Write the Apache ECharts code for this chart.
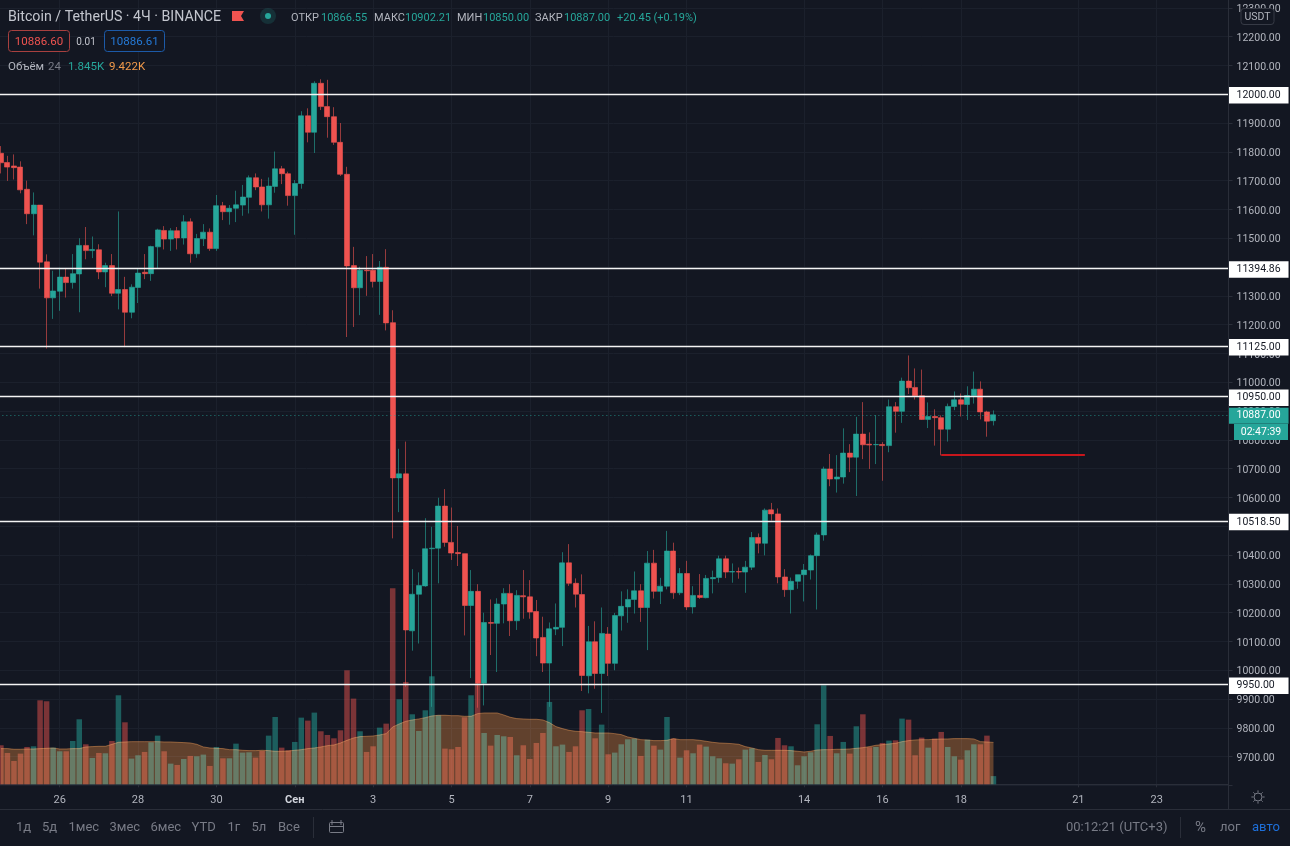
<!DOCTYPE html>
<html>
<head>
<meta charset="utf-8">
<title>Bitcoin / TetherUS 4H</title>
<script src="https://cdn.jsdelivr.net/npm/echarts@6/dist/echarts.min.js"></script>
<style>
  html, body { margin: 0; padding: 0; background: #131722; }
  #chart { width: 1290px; height: 846px; }
</style>
</head>
<body>
<div id="chart"></div>
<script>
// 4-hour candles, oldest first (ten per row)
const opens = [
  11795,11763,11751,11747,11670,11585,11615,11418,11293,11316,
  11365,11346,11376,11475,11457,11460,11383,11405,11309,11322,
  11243,11329,11382,11377,11470,11527,11497,11526,11501,11557,
  11446,11498,11521,11464,11613,11592,11604,11615,11642,11710,
  11678,11616,11680,11741,11724,11648,11690,11925,11868,12038,
  11957,11922,11833,11722,11405,11328,11389,11389,11350,11399,
  11207,10668,10682,10137,10264,10293,10422,10424,10570,10444,
  10409,10405,10225,10274,9955,10166,10163,10230,10267,10172,
  10259,10255,10204,10114,10025,10143,10149,10373,10302,10263,
  9981,10099,9989,10126,10024,10189,10220,10246,10276,10218,
  10372,10274,10292,10414,10269,10336,10220,10260,10252,10318,
  10322,10387,10341,10343,10341,10358,10461,10441,10557,10543,
  10324,10280,10309,10332,10348,10398,10470,10699,10664,10671,
  10754,10740,10820,10785,10783,10784,10780,10915,10899,11004,
  10982,10953,10871,10881,10877,10837,10916,10939,10923,10953,
  10976,10897,10866.55
];
const closes = [
  11762,11747,11745,11668,11585,11615,11417,11293,11317,11365,
  11346,11377,11475,11457,11461,11383,11405,11309,11322,11243,
  11330,11379,11377,11471,11529,11497,11526,11501,11557,11446,
  11499,11521,11464,11613,11592,11604,11616,11643,11710,11678,
  11616,11681,11741,11724,11648,11690,11925,11868,12038,11957,
  11922,11833,11722,11404,11328,11389,11387,11350,11399,11206,
  10668,10682,10140,10264,10294,10422,10424,10570,10444,10407,
  10405,10225,10274,9955,10166,10163,10230,10267,10172,10260,
  10255,10202,10112,10025,10144,10149,10373,10302,10264,9982,
  10099,9989,10128,10024,10190,10222,10246,10276,10218,10372,
  10274,10292,10414,10269,10336,10220,10260,10253,10319,10322,
  10387,10341,10343,10341,10358,10461,10441,10556,10543,10324,
  10280,10309,10332,10348,10398,10470,10699,10664,10671,10754,
  10740,10820,10783,10782,10784,10780,10915,10899,11004,10981,
  10953,10871,10881,10877,10837,10916,10939,10924,10954,10976,
  10897,10865,10887
];
const highs = [
  11820,11786,11791,11767,11700,11659,11615,11444,11387,11398,
  11394,11445,11500,11539,11506,11479,11415,11445,11593,11366,
  11340,11396,11445,11474,11533,11542,11535,11539,11580,11569,
  11515,11549,11534,11650,11626,11615,11665,11685,11718,11725,
  11706,11711,11801,11751,11731,11702,11941,11951,12045,12052,
  12050,11955,11900,11748,11470,11401,11438,11445,11421,11462,
  11250,10769,10794,10351,10340,10528,10498,10599,10629,10565,
  10501,10405,10348,10299,10200,10246,10250,10285,10299,10278,
  10348,10313,10244,10186,10166,10232,10410,10438,10319,10333,
  10154,10170,10218,10150,10199,10274,10281,10343,10299,10414,
  10418,10321,10484,10443,10355,10380,10292,10334,10331,10346,
  10398,10398,10371,10357,10380,10480,10475,10562,10581,10562,
  10351,10322,10332,10369,10402,10478,10707,10751,10747,10840,
  10785,10880,10931,10826,10886,10792,10940,10931,11016,11093,
  11048,11044,10930,10906,10885,10926,10968,10961,10986,11037,
  11003,10901,10902.21
];
const lows = [
  11725,11699,11704,11656,11549,11510,11325,11117,11220,11248,
  11294,11325,11243,11427,11431,11358,11330,11299,11253,11122,
  11222,11275,11358,11352,11395,11461,11456,11461,11478,11415,
  11432,11473,11456,11456,11563,11547,11556,11578,11586,11667,
  11593,11568,11658,11688,11613,11512,11672,11833,11796,11945,
  11849,11824,11716,11157,11192,11233,11300,11329,11234,11180,
  10458,10549,9943,10068,10093,10290,9873,10302,10429,10383,
  10362,10121,9973,9870,9878,10053,9994,10163,10119,10140,
  10179,10179,10049,9994,9873,10122,10084,10293,10218,9928,
  9920,9936,9852,9980,10000,10138,10165,10197,10168,10070,
  10249,10230,10281,10248,10261,10209,10197,10248,10250,10267,
  10304,10320,10304,10318,10269,10348,10406,10399,10520,10302,
  10255,10197,10283,10239,10315,10211,10450,10639,10617,10648,
  10688,10605,10733,10699,10716,10658,10757,10825,10859,10959,
  10940,10869,10841,10780,10746,10794,10903,10881,10869,10926,
  10871,10811,10850
];
// Traded volume per candle, thousands of BTC
const volumes = [
  8.78,7.05,5.25,6.90,8.40,8.55,18.90,18.68,8.25,7.43,
  7.43,9.75,14.63,9.00,5.93,7.05,6.98,9.75,20.03,13.95,
  5.78,6.53,7.28,9.45,10.95,7.43,4.65,4.35,5.70,6.38,
  6.30,6.68,4.13,8.40,5.85,5.85,9.15,7.13,7.20,6.00,
  7.50,10.95,15.15,8.25,7.65,9.53,15.00,14.33,16.13,11.93,
  11.10,10.35,12.15,25.65,19.28,11.93,7.28,8.55,12.75,13.65,
  44.10,19.13,23.03,15.75,12.00,16.65,24.30,15.53,8.03,7.88,
  8.40,15.08,20.03,22.65,11.55,8.70,11.10,10.80,10.65,6.53,
  8.78,5.70,9.30,11.55,18.53,8.55,8.93,7.28,8.55,16.65,
  16.95,10.35,13.43,6.75,7.13,9.00,10.13,10.28,6.38,10.05,
  8.70,7.80,15.15,10.28,6.00,7.65,6.98,8.93,8.48,6.30,
  5.85,4.73,4.65,5.63,7.80,8.10,5.03,6.60,5.63,10.43,
  8.78,8.55,4.28,6.30,7.20,13.50,22.28,10.88,6.98,9.53,
  6.90,13.05,15.75,8.33,8.40,9.30,9.83,9.90,14.78,14.55,
  6.53,10.50,8.25,10.28,11.78,8.40,6.30,5.55,7.65,9.00,
  9.00,10.95,1.845
];
// 24-period volume average
const volumeAverage = [
  8.03,8.03,7.88,7.88,7.95,7.95,8.03,8.10,8.18,7.95,
  7.95,8.03,8.03,8.40,8.48,8.55,8.55,9.00,9.45,9.53,
  9.60,9.60,9.60,9.60,9.60,9.53,9.53,9.45,9.38,9.30,
  9.00,8.40,8.18,8.10,8.03,7.80,7.80,7.65,7.58,7.58,
  7.65,7.58,7.43,7.43,7.50,7.65,7.80,8.03,8.18,8.40,
  8.70,8.85,9.30,9.90,10.43,10.73,10.80,10.88,11.10,11.40,
  12.90,13.58,14.18,14.48,14.70,15.00,15.38,15.53,15.53,15.45,
  15.45,15.30,15.30,15.90,16.05,16.05,16.05,15.60,15.08,14.78,
  14.70,14.63,14.63,14.48,13.88,12.98,12.53,12.15,11.93,11.85,
  11.70,11.55,11.55,11.55,11.40,11.18,10.65,10.35,10.05,9.98,
  9.83,9.83,9.90,10.28,10.05,10.05,10.05,9.90,9.68,9.45,
  9.30,9.23,9.15,9.00,8.48,8.18,7.80,7.65,7.65,7.65,
  7.65,7.58,7.43,7.28,7.43,7.73,7.80,7.80,7.88,7.88,
  7.95,8.10,8.25,8.48,8.78,8.93,9.08,9.23,9.60,9.83,
  9.98,10.05,10.05,10.13,10.20,10.20,10.28,10.28,10.28,10.20,
  9.60,9.53,9.422
];

// Horizontal levels drawn by hand on the chart
const levels = [12000, 11394.86, 11125, 10950, 10518.5, 9950];
const lastPrice = 10887;
const stopLine = { from: '17.09 12:00', to: '21.09 04:00', price: 10747 };

// Date axis labels, keyed by the candle they sit under
const dateTicks = {
  '26.08 00:00': '26', '28.08 00:00': '28', '30.08 00:00': '30', '01.09 00:00': 'Сен',
  '03.09 00:00': '3', '05.09 00:00': '5', '07.09 00:00': '7', '09.09 00:00': '9',
  '11.09 00:00': '11', '14.09 00:00': '14', '16.09 00:00': '16', '18.09 00:00': '18',
  '21.09 00:00': '21', '23.09 00:00': '23'
};

// One 4-hour slot per axis step, with one blank slot before the first candle
const categories = [];
const slotCount = 190;
for (let i = 0; i < slotCount; i++) {
  const d = new Date(Date.UTC(2020, 7, 24, 8 + i * 4));
  const p = n => String(n).padStart(2, '0');
  categories.push(p(d.getUTCDate()) + '.' + p(d.getUTCMonth() + 1) + ' ' + p(d.getUTCHours()) + ':00');
}

const UP = '#26a69a', DOWN = '#ef5350', BG = '#131722';
const GRID = '#1b202c', AXIS = '#2a2e39', TEXT = '#b2b5be', MUTED = '#787b86';
const FONT = 'Roboto, "Liberation Sans", sans-serif';

const blank = ['-', '-', '-', '-'];
const candleData = [blank].concat(opens.map((o, i) => [o, closes[i], lows[i], highs[i]]));
const volumeData = [null].concat(volumes.map((v, i) => ({
  value: v,
  itemStyle: { color: closes[i] >= opens[i] ? 'rgba(38,166,154,0.5)' : 'rgba(239,83,80,0.48)' }
})));
const averageData = [null].concat(volumeAverage);

const plotLeft = -5.63, plotWidth = 1234.17;

// Value tags that sit on the price scale at the end of a horizontal line
const tag = (text, bg, fg, boxHeight) => ({
  show: true, position: 'end', distance: 0, offset: [0, 1], formatter: text,
  width: 52, height: boxHeight - 2, lineHeight: boxHeight - 2, align: 'left', padding: [2, 0, 0, 8],
  backgroundColor: bg, color: fg, fontFamily: FONT, fontSize: 10.5
});
const levelLines = levels.map(v => ({
  yAxis: v,
  lineStyle: { color: '#f4f4f4', width: 1.3, type: 'solid' },
  label: tag(v.toFixed(2), '#ffffff', BG, 16.5)
}));
const priceLine = {
  yAxis: lastPrice,
  lineStyle: { color: 'rgba(38,166,154,0.75)', width: 1, type: [1, 3] },
  label: tag(lastPrice.toFixed(2), UP, '#ffffff', 16)
};
const stopSegment = [
  { coord: [stopLine.from, stopLine.price], lineStyle: { color: '#c8161c', width: 2, type: 'solid' }, label: { show: false } },
  { coord: [stopLine.to, stopLine.price] }
];

// Header, toolbar and badges around the plot
const t = (text, x, y, fill, size, extra) => ({
  type: 'text', z: 100, silent: true,
  style: Object.assign({ x, y: y + 1, text, fill, font: (size || 11) + 'px ' + FONT, verticalAlign: 'middle', align: 'left' }, extra || {})
});
const rect = (x, y, width, height, style, r) => ({
  type: 'rect', z: 99, silent: true, shape: { x, y, width, height, r: r || 0 }, style
});
const seg = (x1, y1, x2, y2, stroke, lineWidth) => ({
  type: 'line', z: 99, silent: true, shape: { x1, y1, x2, y2 }, style: { stroke, lineWidth: lineWidth || 1 }
});

const rangeButtons = [['1д', 16], ['5д', 42], ['1мес', 68.5], ['3мес', 109.5], ['6мес', 150.5], ['YTD', 191.5], ['1г', 227.5], ['5л', 251.5], ['Все', 278]];
const gearRays = [0, 45, 90, 135, 180, 225, 270, 315].map(a => {
  const c = Math.cos(a * Math.PI / 180), s = Math.sin(a * Math.PI / 180);
  return seg(1258 + 4.6 * c, 797 + 4.6 * s, 1258 + 6.6 * c, 797 + 6.6 * s, MUTED, 1);
});

const overlays = [
  t('Bitcoin / TetherUS · 4Ч · BINANCE', 8, 16, '#c3c6ce', 14.2),
  { type: 'polygon', z: 99, silent: true, shape: { points: [[232, 11], [244, 11], [241, 16], [244, 21], [232, 21]] }, style: { fill: DOWN } },
  { type: 'circle', z: 99, silent: true, shape: { cx: 268, cy: 16, r: 8 }, style: { fill: 'rgba(38,166,154,0.18)' } },
  { type: 'circle', z: 99, silent: true, shape: { cx: 268, cy: 16, r: 3 }, style: { fill: UP } },
  t('ОТКР', 291, 17, TEXT), t('10866.55', 321, 17, UP),
  t('МАКС', 374, 17, TEXT), t('10902.21', 405, 17, UP),
  t('МИН', 457, 17, TEXT), t('10850.00', 483, 17, UP),
  t('ЗАКР', 535, 17, TEXT), t('10887.00', 564, 17, UP),
  t('+20.45 (+0.19%)', 617, 17, UP),
  rect(8.5, 30.5, 61, 21, { fill: BG, stroke: '#a8403f', lineWidth: 1 }, 3),
  t('10886.60', 39, 41, DOWN, 11.5, { align: 'center' }),
  t('0.01', 86, 41, '#c3c6ce', 10, { align: 'center' }),
  rect(104.5, 30.5, 60, 21, { fill: BG, stroke: '#1c5aa8', lineWidth: 1 }, 3),
  t('10886.61', 134.5, 41, '#2479d6', 11.5, { align: 'center' }),
  t('Объём', 8, 66, TEXT, 11.5), t('24', 48, 66, MUTED, 11.5),
  t('1.845K', 68, 66, UP, 11.5), t('9.422K', 109, 66, '#f29a4a', 11.5),

  rect(1241, 8.5, 33, 16, { fill: BG, stroke: '#363a45', lineWidth: 1 }, 3),
  t('USDT', 1257.5, 16, TEXT, 10.5, { align: 'center' }),
  rect(1234, 424, 54, 16, { fill: UP }),
  t('02:47:39', 1261, 431.5, '#ffffff', 10.5, { align: 'center' }),

  seg(0, 809.5, 1290, 809.5, AXIS),
  seg(1228.5, 0, 1228.5, 809.5, AXIS),
  { type: 'circle', z: 99, silent: true, shape: { cx: 1258, cy: 797, r: 4 }, style: { fill: 'none', stroke: MUTED, lineWidth: 1 } }
].concat(gearRays).concat(rangeButtons.map(b => t(b[0], b[1], 827, MUTED, 13))).concat([
  seg(313.5, 817, 313.5, 838, AXIS),
  rect(329.5, 822.5, 14, 10, { fill: 'none', stroke: MUTED, lineWidth: 1 }, 1),
  seg(332, 820, 332, 825, MUTED), seg(341, 820, 341, 825, MUTED), seg(329, 826.5, 344, 826.5, MUTED),
  t('00:12:21 (UTC+3)', 1066, 827, MUTED, 13),
  seg(1180.5, 817, 1180.5, 838, AXIS),
  t('%', 1195, 827, MUTED, 15),
  t('лог', 1220, 827, MUTED, 13),
  t('авто', 1252, 827, '#1e6fd9', 13)
]);

const chart = echarts.init(document.getElementById('chart'), null, { renderer: 'canvas' });
chart.setOption({
  animation: false,
  backgroundColor: BG,
  grid: [
    { left: plotLeft, width: plotWidth, top: -21, height: 806.5, outerBoundsMode: 'none' },
    { left: plotLeft, width: plotWidth, top: 584.3, height: 200, outerBoundsMode: 'none' }
  ],
  xAxis: [
    {
      type: 'category', gridIndex: 0, data: categories, boundaryGap: false,
      axisLine: { show: false }, axisTick: { show: false }, axisLabel: { show: false },
      splitLine: { show: true, lineStyle: { color: GRID, width: 1 }, interval: i => dateTicks[categories[i]] !== undefined }
    },
    {
      type: 'category', gridIndex: 1, data: categories, boundaryGap: false,
      axisLine: { show: true, lineStyle: { color: AXIS } },
      axisTick: { show: true, length: 3, lineStyle: { color: AXIS }, interval: i => dateTicks[categories[i]] !== undefined },
      splitLine: { show: false },
      axisLabel: {
        show: true, margin: 10, color: TEXT, fontFamily: FONT, fontSize: 11,
        interval: i => dateTicks[categories[i]] !== undefined,
        formatter: v => dateTicks[v] === 'Сен' ? '{month|Сен}' : (dateTicks[v] || ''),
        rich: { month: { color: '#d1d4dc', fontWeight: 'bold', fontFamily: FONT, fontSize: 11 } }
      }
    }
  ],
  yAxis: [
    {
      type: 'value', gridIndex: 0, position: 'right', min: 9600, max: 12400, interval: 100, scale: true,
      axisLine: { show: false },
      axisTick: { show: true, length: 4, lineStyle: { color: AXIS } },
      splitLine: { show: true, lineStyle: { color: GRID, width: 1 } },
      axisLabel: {
        show: true, margin: 8, color: TEXT, fontFamily: FONT, fontSize: 10.5,
        formatter: v => (v < 9700 || v > 12300) ? '' : '{p|' + v.toFixed(2) + '}',
        rich: { p: { color: TEXT, fontFamily: FONT, fontSize: 10.5, padding: [3, 0, 0, 0] } }
      }
    },
    {
      type: 'value', gridIndex: 1, min: 0, max: 45, show: false
    }
  ],
  graphic: overlays,
  series: [
    {
      name: 'Объём', type: 'bar', xAxisIndex: 1, yAxisIndex: 1, data: volumeData,
      barWidth: 5.5, z: 1, silent: true
    },
    {
      name: 'Объём MA', type: 'line', xAxisIndex: 1, yAxisIndex: 1, data: averageData,
      symbol: 'none', smooth: false, z: 2, silent: true, blendMode: 'screen',
      lineStyle: { color: 'rgb(110,62,24)', width: 1 },
      areaStyle: { color: 'rgb(84,46,13)', opacity: 1 }
    },
    {
      name: 'BTCUSDT', type: 'candlestick', xAxisIndex: 0, yAxisIndex: 0, data: candleData,
      barWidth: 5.5, z: 3, silent: true,
      itemStyle: {
        color: UP, color0: DOWN, borderColor: 'rgba(38,166,154,0.6)', borderColor0: 'rgba(239,83,80,0.6)', borderWidth: 1
      },
      markLine: {
        silent: true, symbol: 'none', animation: false, z: 4,
        data: [priceLine].concat(levelLines).concat([stopSegment])
      }
    }
  ]
});
</script>
</body>
</html>
